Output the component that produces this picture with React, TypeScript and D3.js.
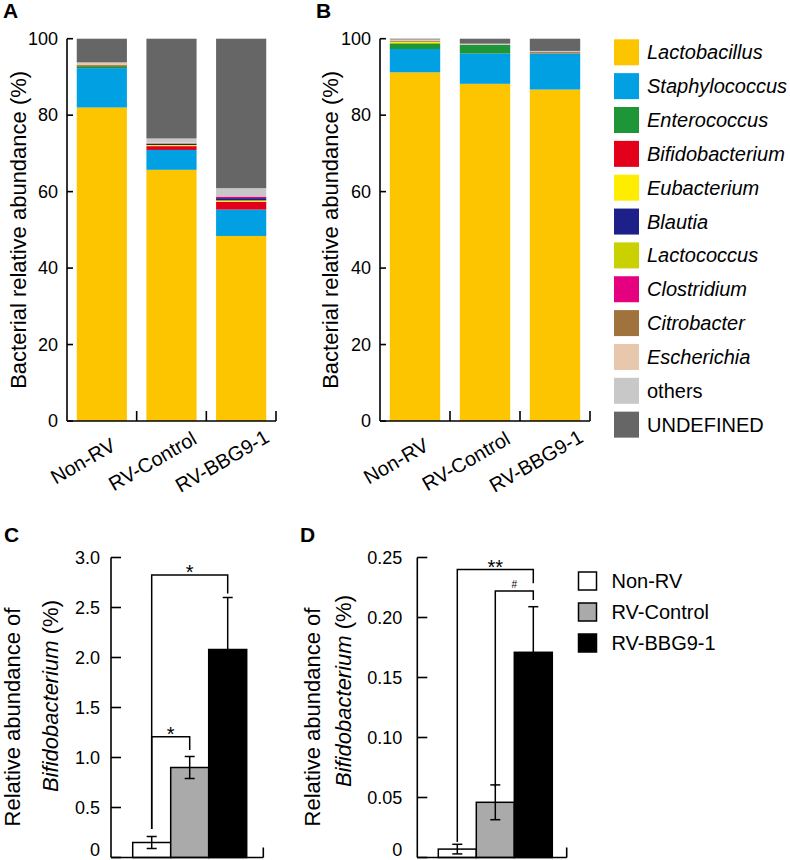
import React from "react";
import * as d3 from "d3";

const FONT = "'Liberation Sans', Arial, Helvetica, sans-serif";

const groups = ["Non-RV", "RV-Control", "RV-BBG9-1"];
const taxa = [
  "Lactobacillus", "Staphylococcus", "Enterococcus", "Bifidobacterium", "Eubacterium", "Blautia",
  "Lactococcus", "Clostridium", "Citrobacter", "Escherichia", "others", "UNDEFINED",
];
const taxaColors = [
  "#FDC500", "#00A0E3", "#1E9638", "#E3001B", "#FFED00", "#1D2088",
  "#C9D200", "#E4007F", "#A0733D", "#E8C8AC", "#C8C8C8", "#666666",
];
const italicTaxa = [true, true, true, true, true, true, true, true, true, true, false, false];

// Panel A (per group, in taxa order)
const aNonRV = [82.0, 10.3, 0.5, 0.1, 0.0, 0.0, 0.0, 0.0, 0.3, 0.5, 0.1, 6.2];
const aRVControl = [65.7, 5.2, 0.0, 1.0, 0.3, 0.4, 0.0, 0.0, 0.0, 0.3, 1.0, 26.1];
const aRVBBG = [48.4, 6.9, 0.0, 2.0, 0.4, 0.6, 0.0, 0.4, 0.0, 0.0, 2.2, 39.1];
// Panel B
const bNonRV = [91.2, 6.1, 1.5, 0.0, 0.4, 0.0, 0.0, 0.0, 0.2, 0.4, 0.0, 0.2];
const bRVControl = [88.2, 7.9, 2.3, 0.0, 0.0, 0.0, 0.0, 0.0, 0.0, 0.0, 0.3, 1.3];
const bRVBBG = [86.7, 9.4, 0.0, 0.0, 0.0, 0.0, 0.0, 0.0, 0.4, 0.0, 0.3, 3.2];

const stackTicks = [0, 20, 40, 60, 80, 100];

// Panel C
const cMeans = [0.15, 0.9, 2.08];
const cErrors = [0.06, 0.11, 0.52];
const cTicks = [0, 0.5, 1.0, 1.5, 2.0, 2.5, 3.0];
const cTickLabels = ["0", "0.5", "1.0", "1.5", "2.0", "2.5", "3.0"];
// Panel D
const dMeans = [0.007, 0.046, 0.171];
const dErrors = [0.004, 0.0145, 0.038];
const dTicks = [0, 0.05, 0.1, 0.15, 0.2, 0.25];
const dTickLabels = ["0", "0.05", "0.10", "0.15", "0.20", "0.25"];

const barFills = ["#FFFFFF", "#AAAAAA", "#000000"];

// significance brackets: [fromIdx, toIdx, top, leftBottom, rightBottom, label]
const cBrackets: [number, number, number, number, number, string][] = [
  [0, 2, 2.825, 0.285, 2.64, "*"],
  [0, 1, 1.208, 0.285, 1.075, "*"],
];
const dBrackets: [number, number, number, number, number, string][] = [
  [0, 2, 0.24, 0.013, 0.2285, "**"],
  [1, 2, 0.222, 0.059, 0.2146, "#"],
];

function StackPanel({ data, x0, x1, letter, letterX, labelX }: any) {
  const yTop = 38.7, yBot = 421;
  const x = d3.scaleBand().domain(groups).range([x0, x1]).padding(0);
  const y = d3.scaleLinear().domain([0, 100]).range([yBot, yTop]);
  const rows = groups.map((g, gi) => {
    const r: any = { group: g };
    taxa.forEach((t, ti) => (r[t] = data[gi][ti]));
    return r;
  });
  const series = d3.stack().keys(taxa)(rows);
  const bw = x.bandwidth();
  const barW = bw * 0.72;
  return (
    <g>
      <text x={letterX} y={18} fontSize={21} fontWeight="bold" fontFamily={FONT}>{letter}</text>
      {series.map((s, si) =>
        s.map((d, gi) => {
          const h = y(d[0]) - y(d[1]);
          if (h <= 0) return null;
          return (
            <rect key={si + "-" + gi} x={(x(groups[gi]) as number) + (bw - barW) / 2} y={y(d[1])}
              width={barW} height={h} fill={taxaColors[si]} />
          );
        })
      )}
      <line x1={x0} x2={x0} y1={yTop} y2={yBot} stroke="#000" strokeWidth={1.6} />
      <line x1={x0} x2={x1} y1={yBot} y2={yBot} stroke="#000" strokeWidth={1.6} />
      {stackTicks.map((t) => (
        <g key={t}>
          <line x1={x0} x2={x0 + 6} y1={y(t)} y2={y(t)} stroke="#000" strokeWidth={1.6} />
          <text x={x0 - 9} y={y(t)} dy="0.35em" textAnchor="end" fontSize={18} fontFamily={FONT}>{t}</text>
        </g>
      ))}
      {groups.map((g) => (
        <line key={g} x1={(x(g) as number) + bw} x2={(x(g) as number) + bw} y1={yBot} y2={yBot - 10}
          stroke="#000" strokeWidth={1.6} />
      ))}
      {groups.map((g) => (
        <text key={g} transform={`translate(${(x(g) as number) + bw / 2 - 19},${yBot + 40}) rotate(-30)`}
          textAnchor="middle" dy="0.35em" fontSize={20} fontFamily={FONT}>{g}</text>
      ))}
      <text transform={`translate(${labelX},${(yTop + yBot) / 2}) rotate(-90)`} textAnchor="middle" dy="0.35em"
        fontSize={22} fontFamily={FONT}>Bacterial relative abundance (%)</text>
    </g>
  );
}

function BarPanel({ means, errors, ticks, tickLabels, yMax, axisX, axisEnd, barsX0, barsX1, letter, letterX,
  line1X, line1Y, line2X, line2Y, tickLabelGap, brackets }: any) {
  const yTop = 557.5, yBot = 857.5;
  const y = d3.scaleLinear().domain([0, yMax]).range([yBot, yTop]);
  const x = d3.scaleBand().domain(groups).range([barsX0, barsX1]).padding(0);
  const bw = x.bandwidth();
  const cx = (i: number) => (x(groups[i]) as number) + bw / 2;
  const cap = 5;
  return (
    <g>
      <text x={letterX} y={542} fontSize={21} fontWeight="bold" fontFamily={FONT}>{letter}</text>
      {groups.map((g, i) => (
        <rect key={g} x={x(g)} y={y(means[i])} width={bw} height={yBot - y(means[i])} fill={barFills[i]}
          stroke="#000" strokeWidth={1.5} />
      ))}
      {groups.map((g, i) => (
        <g key={"e" + g}>
          <line x1={cx(i)} x2={cx(i)} y1={y(means[i])} y2={y(means[i] + errors[i])} stroke="#000" strokeWidth={1.5} />
          <line x1={cx(i) - cap} x2={cx(i) + cap} y1={y(means[i] + errors[i])} y2={y(means[i] + errors[i])} stroke="#000" strokeWidth={1.5} />
          {i < 2 && (
            <>
              <line x1={cx(i)} x2={cx(i)} y1={y(means[i])} y2={y(Math.max(0, means[i] - errors[i]))} stroke="#000" strokeWidth={1.5} />
              <line x1={cx(i) - cap} x2={cx(i) + cap} y1={y(Math.max(0, means[i] - errors[i]))} y2={y(Math.max(0, means[i] - errors[i]))} stroke="#000" strokeWidth={1.5} />
            </>
          )}
        </g>
      ))}
      <line x1={axisX} x2={axisX} y1={yTop} y2={yBot} stroke="#000" strokeWidth={1.6} />
      <line x1={axisX} x2={axisEnd} y1={yBot} y2={yBot} stroke="#000" strokeWidth={1.6} />
      <line x1={axisEnd} x2={axisEnd} y1={yBot} y2={yBot - 10} stroke="#000" strokeWidth={1.6} />
      {ticks.map((t: number, i: number) => (
        <g key={t}>
          <line x1={axisX} x2={axisX + 10} y1={y(t)} y2={y(t)} stroke="#000" strokeWidth={1.6} />
          <text x={axisX - tickLabelGap} y={t === 0 ? yBot - 8 : y(t)} dy="0.35em" textAnchor="end" fontSize={18}
            fontFamily={FONT}>{tickLabels[i]}</text>
        </g>
      ))}
      {brackets.map((b: any, i: number) => {
        const [a, c, top, lb, rb, label] = b;
        const small = label === "#";
        return (
          <g key={i}>
            <path d={`M${cx(a)},${y(lb)} V${y(top)} H${cx(c)} V${y(rb)}`} fill="none" stroke="#000" strokeWidth={1.5} />
            <text x={(cx(a) + cx(c)) / 2} y={y(top) - (small ? 3 : -4)} textAnchor="middle"
              fontSize={small ? 10 : 20} fontFamily={FONT}>{label}</text>
          </g>
        );
      })}
      <text transform={`translate(${line1X},${line1Y}) rotate(-90)`} textAnchor="middle" dy="0.35em"
        fontSize={22} fontFamily={FONT}>Relative abundance of</text>
      <text transform={`translate(${line2X},${line2Y}) rotate(-90)`} textAnchor="middle" dy="0.35em"
        fontSize={22} fontFamily={FONT}><tspan fontStyle="italic">Bifidobacterium</tspan> (%)</text>
    </g>
  );
}

export default function App() {
  return (
    <div style={{ position: "absolute", left: 0, top: 0 }}>
      <svg width={790} height={860} style={{ display: "block", background: "#fff" }}>
        <StackPanel data={[aNonRV, aRVControl, aRVBBG]} x0={67} x1={276} letter="A" letterX={3} labelX={18} />
        <StackPanel data={[bNonRV, bRVControl, bRVBBG]} x0={380} x1={590} letter="B" letterX={316} labelX={330} />
        {taxa.map((t, i) => {
          const top = 39.3 + i * 33.85;
          return (
            <g key={t}>
              <rect x={614} y={top} width={25} height={26} fill={taxaColors[i]} />
              <text x={647} y={top + 13} dy="0.35em" fontSize={20} fontFamily={FONT}
                fontStyle={italicTaxa[i] ? "italic" : "normal"}>{t}</text>
            </g>
          );
        })}
        <BarPanel means={cMeans} errors={cErrors} ticks={cTicks} tickLabels={cTickLabels} yMax={3}
          axisX={111} axisEnd={263.3} barsX0={132.7} barsX1={246.7} letter="C" letterX={4}
          line1X={12} line1Y={717} line2X={50} line2Y={696} tickLabelGap={11} brackets={cBrackets} />
        <BarPanel means={dMeans} errors={dErrors} ticks={dTicks} tickLabels={dTickLabels} yMax={0.25}
          axisX={417.3} axisEnd={566.7} barsX0={438.3} barsX1={552.3} letter="D" letterX={300}
          line1X={312} line1Y={717} line2X={343} line2Y={691} tickLabelGap={15} brackets={dBrackets} />
        {groups.map((g, i) => {
          const top = 572 + i * 31;
          return (
            <g key={g}>
              <rect x={578.5} y={top} width={18} height={18} fill={barFills[i]} stroke="#000" strokeWidth={1.5} />
              <text x={611.5} y={top + 9} dy="0.35em" fontSize={20} fontFamily={FONT}>{g}</text>
            </g>
          );
        })}
      </svg>
    </div>
  );
}
